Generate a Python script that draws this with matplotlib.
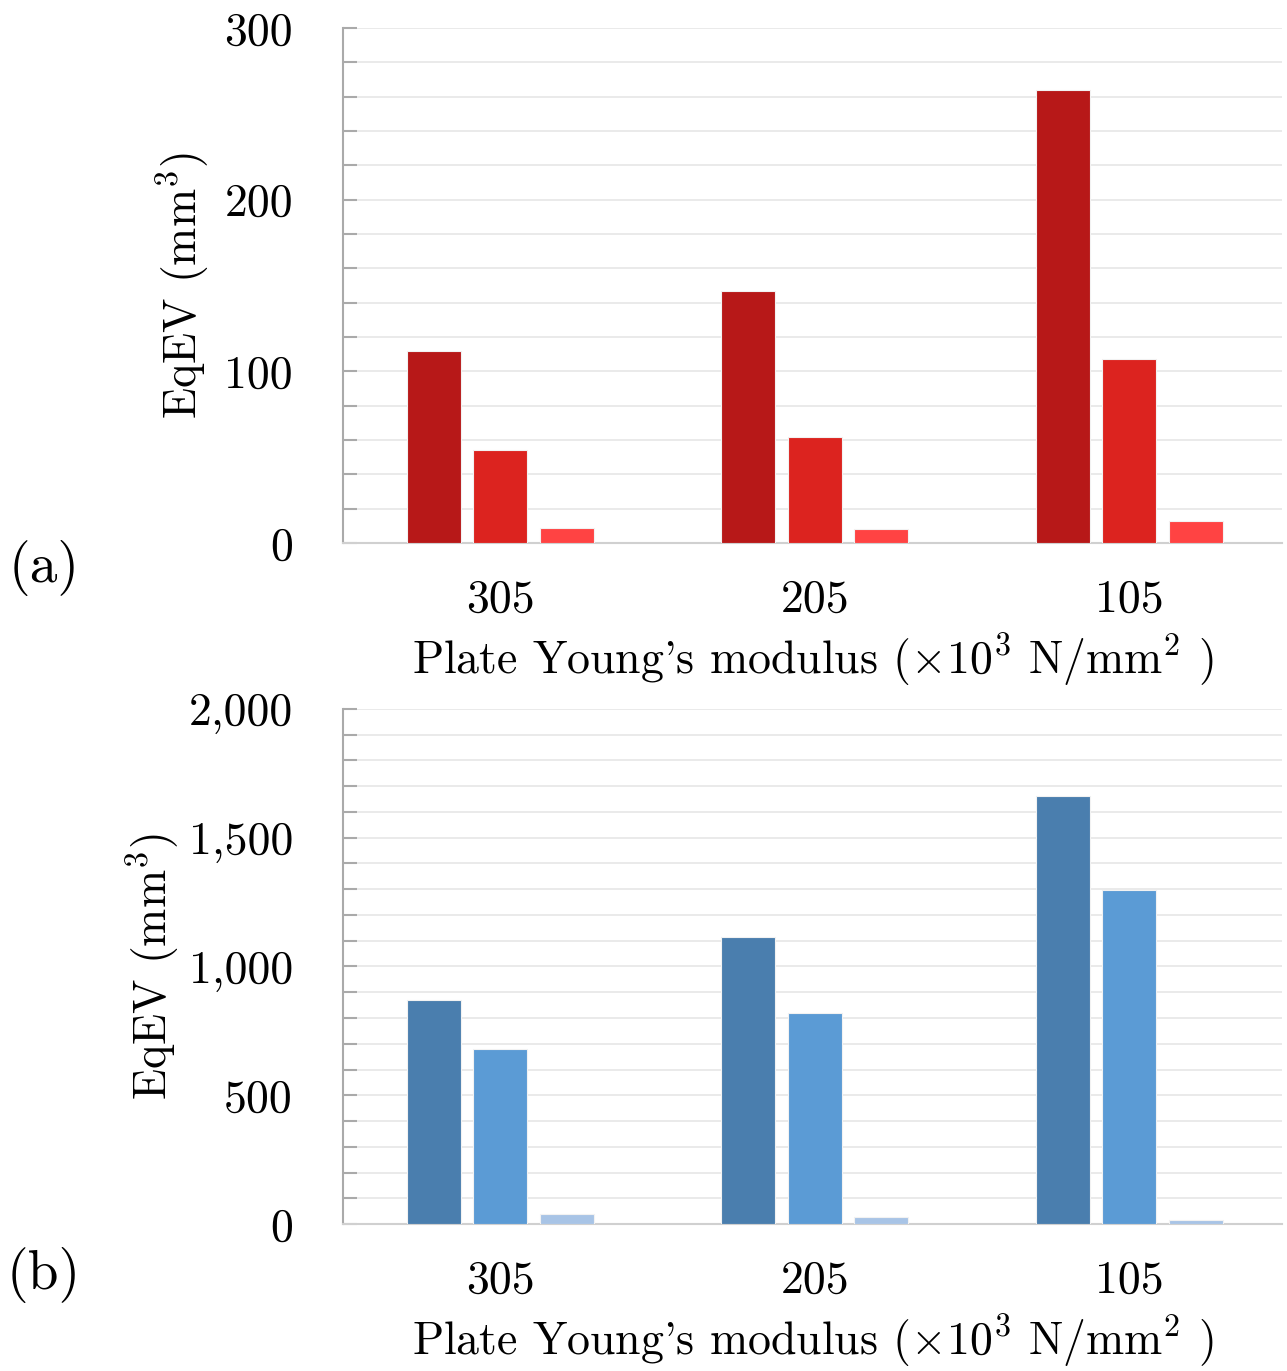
import matplotlib
matplotlib.use("Agg")
import matplotlib.pyplot as plt
from matplotlib.ticker import MultipleLocator, FuncFormatter

plt.rcParams['font.family'] = 'serif'
plt.rcParams['font.serif'] = ['cmr10']
plt.rcParams['mathtext.fontset'] = 'cm'
plt.rcParams['axes.formatter.use_mathtext'] = True

categories = ['305', '205', '105']

# (a) EqEV, mm^3
red_s1 = [112, 147, 264]
red_s2 = [54, 62, 107]
red_s3 = [9, 8, 13]
red_colors = ['#B71818', '#DC231F', '#FF4343']

# (b) EqEV, mm^3
blue_s1 = [870, 1115, 1662]
blue_s2 = [680, 819, 1297]
blue_s3 = [39, 27, 16]
blue_colors = ['#4A7EAE', '#5B9BD5', '#A8C4E6']

xlabel = r"Plate Young's modulus ($\times10^3$ N/mm$^2$ )"
ylabel = r"EqEV (mm$^3$)"

fig = plt.figure(figsize=(12.87, 13.71), dpi=100)
ax1 = fig.add_axes([0.2665, 0.6039, 0.7295, 0.3757])
ax2 = fig.add_axes([0.2665, 0.1072, 0.7295, 0.3757])

width = 0.172
offset = 0.211
fs = 33


def draw(ax, series, colors, ymax, major, minor, ylpad):
    x = range(len(categories))
    for i, (vals, c) in enumerate(zip(series, colors)):
        pos = [xi + (i - 1) * offset for xi in x]
        ax.bar(pos, vals, width=width, color=c, edgecolor='#f2f2f2',
               linewidth=0.8, zorder=3)
    ax.set_xlim(-0.5, 2.485)
    ax.set_ylim(0, ymax)
    ax.set_xticks(list(x))
    ax.set_xticklabels(categories)
    ax.yaxis.set_major_locator(MultipleLocator(major))
    ax.yaxis.set_minor_locator(MultipleLocator(minor))
    ax.yaxis.set_major_formatter(FuncFormatter(lambda v, p: f'{v:,.0f}'))
    ax.grid(axis='y', which='both', color='#e6e6e6', linewidth=1.2, zorder=0)
    for s in ['top', 'right']:
        ax.spines[s].set_visible(False)
    ax.spines['left'].set_color('#aaaaaa')
    ax.spines['left'].set_linewidth(1.5)
    ax.spines['bottom'].set_color('#d0d0d0')
    ax.spines['bottom'].set_linewidth(1.5)
    ax.tick_params(axis='y', which='both', direction='in', length=10,
                   width=1.5, color='#aaaaaa', labelsize=fs, pad=36)
    ax.tick_params(axis='x', length=0, labelsize=fs, pad=26)
    ax.set_xlabel(xlabel, fontsize=fs, labelpad=8)
    ax.set_ylabel(ylabel, fontsize=fs, labelpad=ylpad)


draw(ax1, [red_s1, red_s2, red_s3], red_colors, 300, 100, 20, 9)
draw(ax2, [blue_s1, blue_s2, blue_s3], blue_colors, 2000, 500, 100, 5)

fig.text(0.034, 1 - 568 / 1371, '(a)', fontsize=40, ha='center', va='center')
fig.text(0.034, 1 - 1275 / 1371, '(b)', fontsize=40, ha='center', va='center')

fig.savefig('out.png', dpi=100)
